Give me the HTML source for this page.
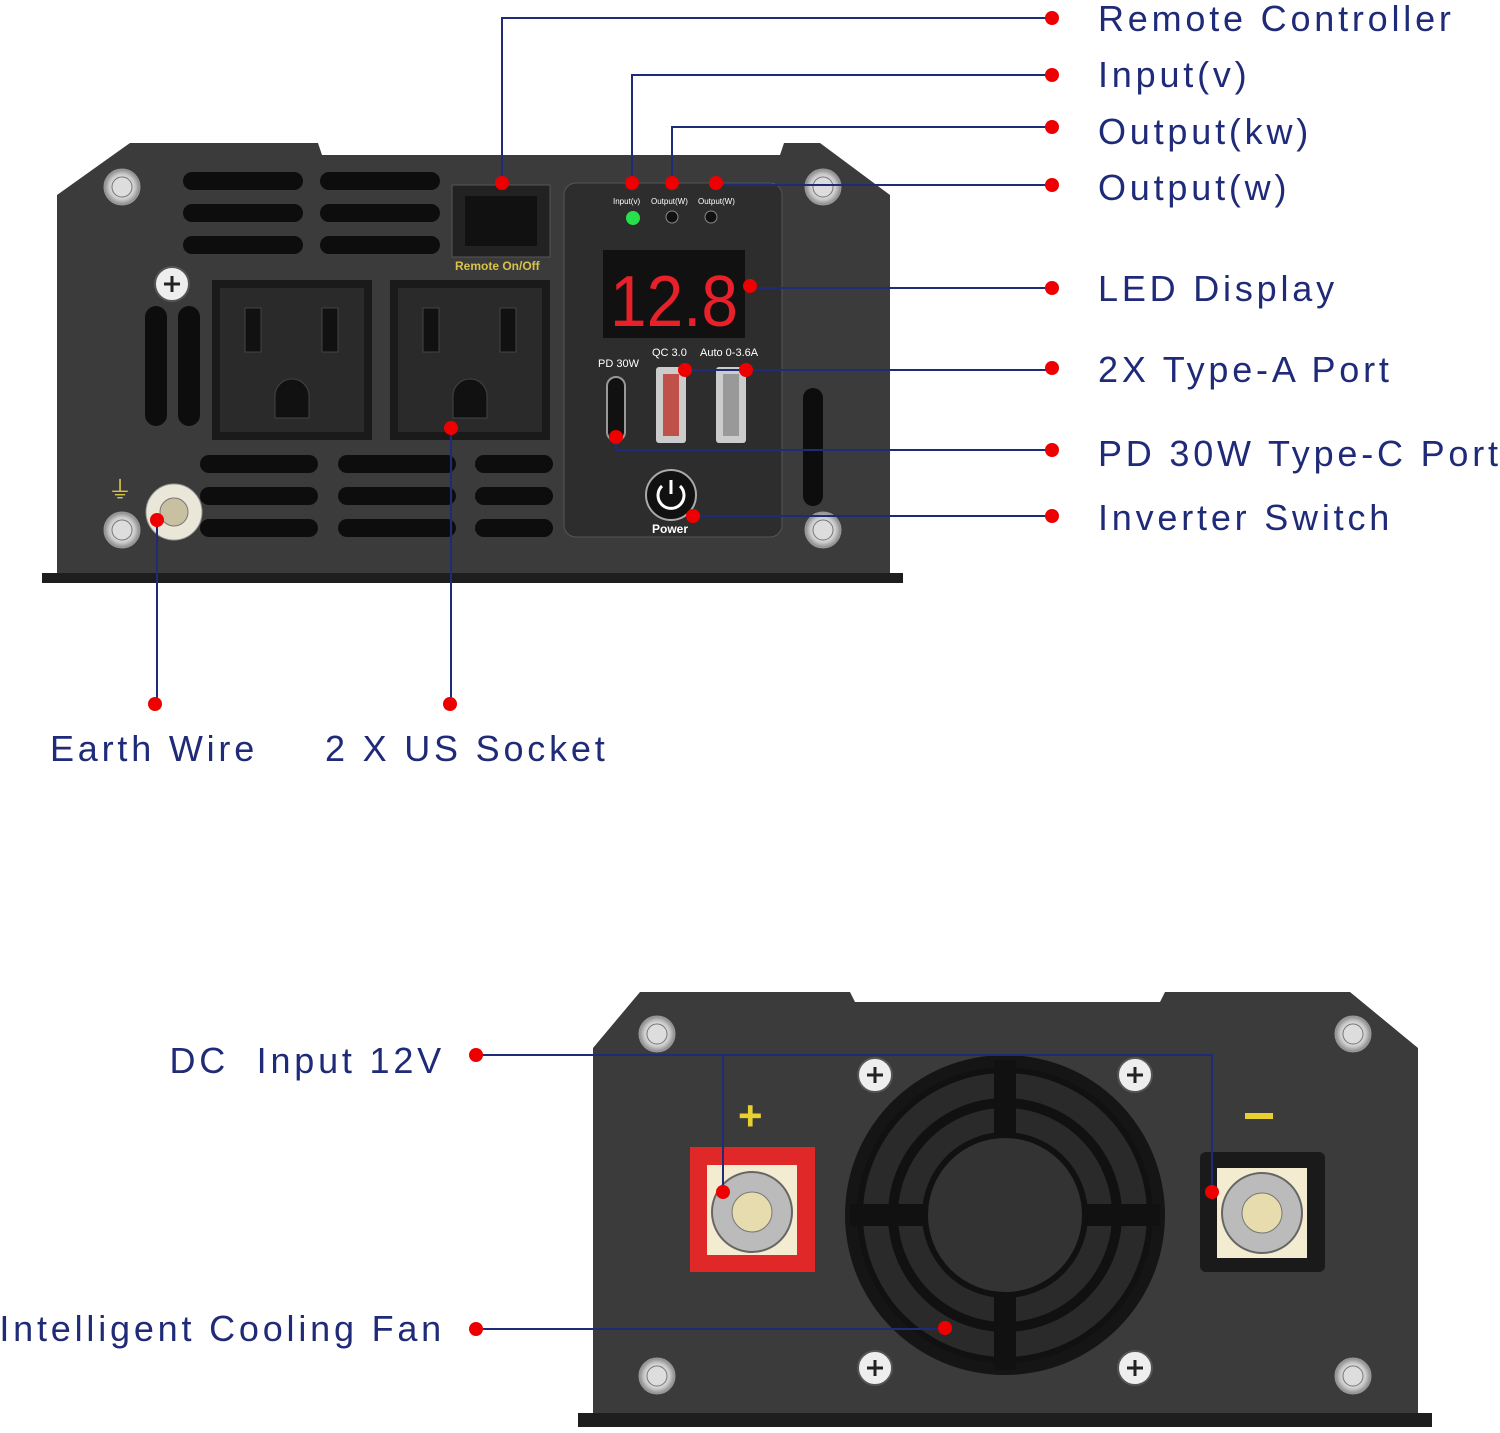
<!DOCTYPE html>
<html><head><meta charset="utf-8"><style>
html,body{margin:0;padding:0;background:#fff;}
svg{display:block;}
.t{font-family:"Liberation Sans","DejaVu Sans",sans-serif;font-size:36px;fill:#1f2a78;letter-spacing:3.8px;}
.l{stroke:#1f2a78;stroke-width:2;fill:none;}
</style></head><body>
<svg width="1500" height="1433" viewBox="0 0 1500 1433" xmlns="http://www.w3.org/2000/svg">
<defs>
<radialGradient id="scr" cx="50%" cy="50%" r="50%"><stop offset="0" stop-color="#fff"/><stop offset="0.7" stop-color="#ccc"/><stop offset="1" stop-color="#888"/></radialGradient>
<g id="screw"><circle r="18" fill="url(#scr)" stroke="#999"/><circle r="10" fill="#ddd" stroke="#777"/></g>
<g id="phil"><circle r="17" fill="#eee" stroke="#555" stroke-width="2"/><path d="M-8 0H8M0 -8V8" stroke="#222" stroke-width="3"/></g>
</defs>

<polygon points="57,195 130,143 318,143 322,155 780,155 784,143 820,143 890,195 890,575 57,575" fill="#3b3b3b"/>
<rect x="42" y="573" width="861" height="10" fill="#1e1e1e"/>
<g fill="#0d0d0d">
<rect x="183" y="172" width="120" height="18" rx="9"/><rect x="320" y="172" width="120" height="18" rx="9"/>
<rect x="183" y="204" width="120" height="18" rx="9"/><rect x="320" y="204" width="120" height="18" rx="9"/>
<rect x="183" y="236" width="120" height="18" rx="9"/><rect x="320" y="236" width="120" height="18" rx="9"/>
<rect x="145" y="306" width="22" height="120" rx="11"/><rect x="178" y="306" width="22" height="120" rx="11"/>
<rect x="200" y="455" width="118" height="18" rx="9"/><rect x="338" y="455" width="118" height="18" rx="9"/><rect x="475" y="455" width="78" height="18" rx="9"/>
<rect x="200" y="487" width="118" height="18" rx="9"/><rect x="338" y="487" width="118" height="18" rx="9"/><rect x="475" y="487" width="78" height="18" rx="9"/>
<rect x="200" y="519" width="118" height="18" rx="9"/><rect x="338" y="519" width="118" height="18" rx="9"/><rect x="475" y="519" width="78" height="18" rx="9"/>
<rect x="803" y="388" width="20" height="118" rx="10"/>
</g>
<g>
<rect x="212" y="280" width="160" height="160" fill="#1a1a1a"/><rect x="220" y="288" width="144" height="144" fill="#2a2a2a"/>
<rect x="245" y="308" width="16" height="44" fill="#111" stroke="#444"/><rect x="322" y="308" width="16" height="44" fill="#111" stroke="#444"/>
<path d="M275 418 v-22 a17 17 0 0 1 34 0 v22z" fill="#111" stroke="#444"/>
<rect x="390" y="280" width="160" height="160" fill="#1a1a1a"/><rect x="398" y="288" width="144" height="144" fill="#2a2a2a"/>
<rect x="423" y="308" width="16" height="44" fill="#111" stroke="#444"/><rect x="500" y="308" width="16" height="44" fill="#111" stroke="#444"/>
<path d="M453 418 v-22 a17 17 0 0 1 34 0 v22z" fill="#111" stroke="#444"/>
</g>
<rect x="452" y="185" width="98" height="72" fill="#222" stroke="#555"/>
<rect x="465" y="196" width="72" height="50" fill="#111"/>
<text x="455" y="270" font-family="Liberation Sans" font-size="12" font-weight="bold" fill="#d8c24a">Remote On/Off</text>
<rect x="564" y="183" width="218" height="354" rx="12" fill="#2d2d2d" stroke="#555"/>
<text x="613" y="204" font-family="Liberation Sans" font-size="8" fill="#fff">Input(v)</text>
<text x="651" y="204" font-family="Liberation Sans" font-size="8" fill="#fff">Output(W)</text>
<text x="698" y="204" font-family="Liberation Sans" font-size="8" fill="#fff">Output(W)</text>
<circle cx="633" cy="218" r="7" fill="#27e04a"/><circle cx="672" cy="217" r="6" fill="#111" stroke="#888"/><circle cx="711" cy="217" r="6" fill="#111" stroke="#888"/>
<rect x="603" y="250" width="142" height="88" fill="#111"/>
<text x="610" y="326" font-family="Liberation Sans" font-size="72" fill="#e8202a" textLength="128" lengthAdjust="spacingAndGlyphs">12.8</text>
<text x="598" y="367" font-family="Liberation Sans" font-size="11" fill="#fff">PD 30W</text>
<text x="652" y="356" font-family="Liberation Sans" font-size="11" fill="#fff">QC 3.0</text>
<text x="700" y="356" font-family="Liberation Sans" font-size="11" fill="#fff">Auto 0-3.6A</text>
<rect x="607" y="377" width="18" height="64" rx="9" fill="#111" stroke="#999" stroke-width="2"/>
<rect x="656" y="367" width="30" height="76" rx="3" fill="#ccc"/><rect x="663" y="374" width="16" height="62" fill="#c0504a"/>
<rect x="716" y="367" width="30" height="76" rx="3" fill="#ccc"/><rect x="723" y="374" width="16" height="62" fill="#999"/>
<circle cx="671" cy="495" r="25" fill="#111" stroke="#aaa" stroke-width="2"/>
<path d="M662 486 a13 13 0 1 0 18 0" stroke="#fff" stroke-width="3" fill="none"/><path d="M671 480 v14" stroke="#fff" stroke-width="3"/>
<text x="652" y="533" font-family="Liberation Sans" font-size="12" font-weight="bold" fill="#fff">Power</text>
<use href="#screw" x="122" y="187"/><use href="#screw" x="823" y="187"/><use href="#screw" x="122" y="530"/><use href="#screw" x="823" y="530"/>
<use href="#phil" x="172" y="284"/>
<circle cx="174" cy="512" r="28" fill="#eae6d8" stroke="#999"/><circle cx="174" cy="512" r="14" fill="#c8c0a0" stroke="#777"/>
<text x="108" y="498" font-family="DejaVu Sans" font-size="24" fill="#d8c24a">⏚</text>

<g class="l">
<path d="M1052 18H502V183"/><path d="M1052 75H632V183"/><path d="M1052 127H672V183"/><path d="M1052 185H716"/>
<path d="M1052 288H750"/><path d="M1052 370H685"/><path d="M1052 450H616V437"/><path d="M1052 516H693"/>
<path d="M157 520V704"/><path d="M451 428V704"/>
</g>
<g fill="#e00">
<circle cx="1052" cy="18" r="7"/><circle cx="502" cy="183" r="7"/><circle cx="1052" cy="75" r="7"/><circle cx="632" cy="183" r="7"/>
<circle cx="1052" cy="127" r="7"/><circle cx="672" cy="183" r="7"/><circle cx="1052" cy="185" r="7"/><circle cx="716" cy="183" r="7"/>
<circle cx="1052" cy="288" r="7"/><circle cx="750" cy="286" r="7"/><circle cx="1052" cy="368" r="7"/><circle cx="685" cy="370" r="7"/><circle cx="746" cy="370" r="7"/>
<circle cx="1052" cy="450" r="7"/><circle cx="616" cy="437" r="7"/><circle cx="1052" cy="516" r="7"/><circle cx="693" cy="516" r="7"/>
<circle cx="157" cy="520" r="7"/><circle cx="155" cy="704" r="7"/><circle cx="451" cy="428" r="7"/><circle cx="450" cy="704" r="7"/>
</g>
<text class="t" x="1098" y="31">Remote Controller</text>
<text class="t" x="1098" y="87">Input(v)</text>
<text class="t" x="1098" y="144">Output(kw)</text>
<text class="t" x="1098" y="200">Output(w)</text>
<text class="t" x="1098" y="301">LED Display</text>
<text class="t" x="1098" y="382">2X Type-A Port</text>
<text class="t" x="1098" y="466">PD 30W Type-C Port</text>
<text class="t" x="1098" y="530">Inverter Switch</text>
<text class="t" x="50" y="761">Earth Wire</text>
<text class="t" x="325" y="761">2 X US Socket</text>

<polygon points="593,1048 640,992 850,992 855,1002 1160,1002 1165,992 1350,992 1418,1048 1418,1415 593,1415" fill="#3b3b3b"/>
<rect x="578" y="1413" width="854" height="14" fill="#1e1e1e"/>
<circle cx="1005" cy="1215" r="160" fill="#151515"/>
<circle cx="1005" cy="1215" r="145" fill="#2a2a2a" stroke="#111" stroke-width="6"/>
<circle cx="1005" cy="1215" r="112" fill="none" stroke="#111" stroke-width="10"/>
<g stroke="#111" stroke-width="22"><path d="M1005 1060V1370M850 1215H1160"/></g>
<circle cx="1005" cy="1215" r="80" fill="#333" stroke="#111" stroke-width="6"/>
<rect x="690" y="1147" width="125" height="125" fill="#e02828"/>
<rect x="707" y="1165" width="90" height="90" fill="#f4ecd0"/>
<circle cx="752" cy="1212" r="40" fill="#bbb" stroke="#666" stroke-width="2"/><circle cx="752" cy="1212" r="20" fill="#e6dcae" stroke="#777"/>
<text x="738" y="1130" font-family="Liberation Sans" font-size="42" font-weight="bold" fill="#e8d030">+</text>
<rect x="1200" y="1152" width="125" height="120" rx="6" fill="#1a1a1a"/>
<rect x="1217" y="1168" width="90" height="90" fill="#f4ecd0"/>
<circle cx="1262" cy="1213" r="40" fill="#bbb" stroke="#666" stroke-width="2"/><circle cx="1262" cy="1213" r="20" fill="#e6dcae" stroke="#777"/>
<rect x="1245" y="1113" width="28" height="6" fill="#e8d030"/>
<use href="#screw" x="657" y="1034"/><use href="#screw" x="1353" y="1034"/><use href="#screw" x="657" y="1376"/><use href="#screw" x="1353" y="1376"/>
<use href="#phil" x="875" y="1075"/><use href="#phil" x="1135" y="1075"/><use href="#phil" x="875" y="1368"/><use href="#phil" x="1135" y="1368"/>

<g class="l"><path d="M476 1055H1212V1192"/><path d="M723 1055V1192"/><path d="M476 1329H945"/></g>
<g fill="#e00"><circle cx="476" cy="1055" r="7"/><circle cx="723" cy="1192" r="7"/><circle cx="1212" cy="1192" r="7"/><circle cx="476" cy="1329" r="7"/><circle cx="945" cy="1328" r="7"/></g>
<text class="t" x="445" y="1073" text-anchor="end" xml:space="preserve">DC  Input 12V</text>
<text class="t" x="445" y="1341" text-anchor="end">Intelligent Cooling Fan</text>
</svg>
</body></html>
